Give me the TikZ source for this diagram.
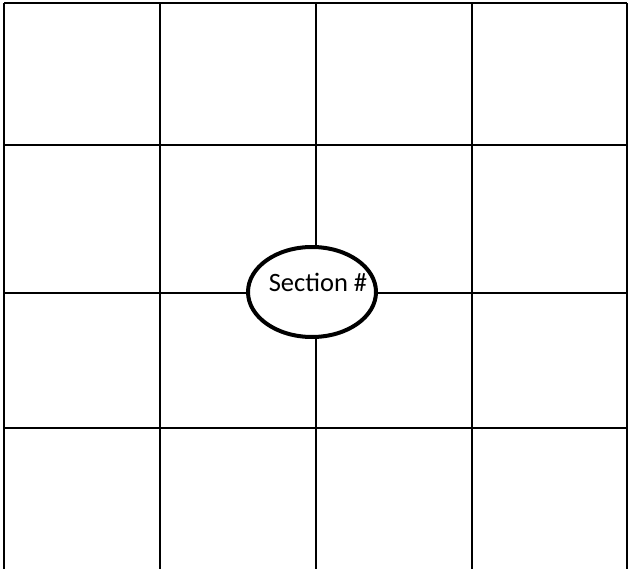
\documentclass[tikz,border=0pt]{standalone}
\usepackage{fontspec}
\setmainfont{Carlito}
\usetikzlibrary{shapes.geometric}

\begin{document}
\begin{tikzpicture}[
  x=1pt, y=-1pt,
  gridline/.style={draw=black, line width=1.6pt},
  sectionoval/.style={draw=black, line width=4pt, ellipse, minimum width=128pt, minimum height=90pt, inner sep=0pt, fill=white},
  every label/.style={font=\fontsize{26.5}{32}\selectfont, inner sep=0pt}
]
\useasboundingbox (0,0) rectangle (628,569);
% grid
\foreach \gx in {4,160,316,472,627}
  \draw[gridline] (\gx,3) -- (\gx,569);
\foreach \gy in {3,145,293,428}
  \draw[gridline] (4,\gy) -- (627,\gy);
% section marker
\node[sectionoval, label={[xshift=6pt, yshift=10pt]center:Section \#}] (sec) at (312,292) {};
\end{tikzpicture}
\end{document}
